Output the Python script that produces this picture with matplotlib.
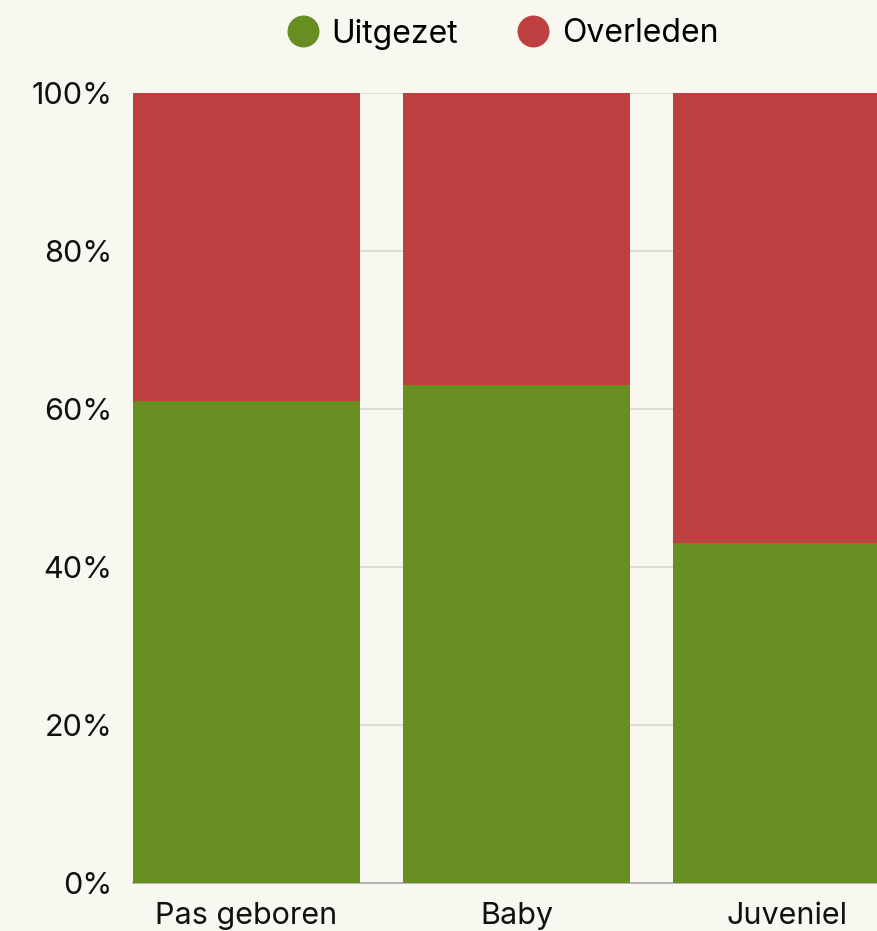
import matplotlib
matplotlib.use("Agg")
import matplotlib.pyplot as plt
from matplotlib.lines import Line2D

categories = ["Pas geboren", "Baby", "Juveniel"]
uitgezet = [61, 63, 43]
overleden = [39, 37, 57]
series_names = ["Uitgezet", "Overleden"]
yticks = [0, 20, 40, 60, 80, 100]

bg = "#F8F7F0"
green = "#678E21"
red = "#BE3F3F"

plt.rcParams['font.family'] = ['Inter', 'DejaVu Sans']

W, H = 877, 931
fig = plt.figure(figsize=(W/100, H/100), dpi=100, facecolor=bg)
ax = fig.add_axes([133/W, (H-883)/H, (900-133)/W, (883-93)/H])
ax.set_facecolor(bg)

x = list(range(len(categories)))
bw = 0.84
ax.bar(x, uitgezet, width=bw, color=green, zorder=3)
ax.bar(x, overleden, width=bw, bottom=uitgezet, color=red, zorder=3)

ax.set_xlim(-0.42, 2.42)
ax.set_ylim(0, 100)
ax.set_yticks(yticks)
ax.set_yticklabels([f"{v}%" for v in yticks])
ax.set_xticks(x)
ax.set_xticklabels(categories)
ax.tick_params(axis='both', length=0, labelsize=22, colors='#111111')
ax.tick_params(axis='y', pad=15)
ax.tick_params(axis='x', pad=14)
ax.grid(axis='y', color='#D8D8D0', linewidth=1.2, zorder=0)
for s in ['top', 'right', 'left']:
    ax.spines[s].set_visible(False)
ax.spines['bottom'].set_color('#AAAAAA')
ax.spines['bottom'].set_linewidth(1.2)
ax.spines['bottom'].set_zorder(2)

handles = [Line2D([0], [0], marker='o', linestyle='none', markersize=22,
                  markerfacecolor=c, markeredgecolor=c) for c in (green, red)]
fig.legend(handles, series_names, loc='center', bbox_to_anchor=(502/W, 1-34/H),
           ncol=2, frameon=False, fontsize=23, handletextpad=0.35,
           columnspacing=1.8, handlelength=1.1)

fig.savefig("out.png", dpi=100, facecolor=bg)
